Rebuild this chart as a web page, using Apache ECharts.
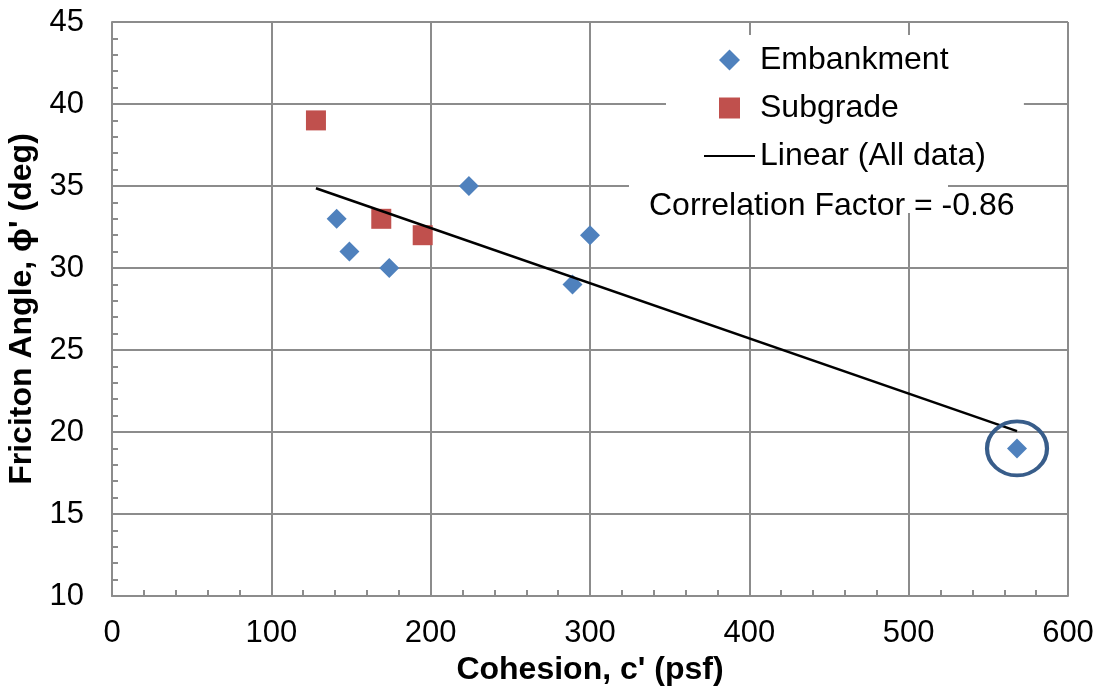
<!DOCTYPE html>
<html>
<head>
<meta charset="utf-8">
<script src="https://cdn.jsdelivr.net/npm/echarts@6/dist/echarts.min.js"></script>
<style>
  html, body { margin: 0; padding: 0; background: #fff; }
  #chart { width: 1103px; height: 688px; }
</style>
</head>
<body>
<div id="chart"></div>
<script>
// values
const embankment = [[141, 33], [149, 31], [174, 30], [224, 35], [289, 29], [300, 32], [568, 19]];
const subgrade = [[128, 39], [169, 33], [195, 32]];
const trendAll = [[128, 34.86], [568, 20.05]];   // linear fit, all data
const outlier = [[568, 19]];                      // circled point
const correlation = 'Correlation Factor = -0.86';

const font = '"Liberation Sans", Arial, sans-serif';
const gridGray = '#8c8c8c';

const chart = echarts.init(document.getElementById('chart'));

const axisCommon = {
  axisLine: { lineStyle: { color: gridGray, width: 2 } },
  axisTick: { inside: true, length: 6, lineStyle: { color: gridGray, width: 2 } },
  minorTick: { show: true, splitNumber: 5, length: 6, lineStyle: { color: gridGray, width: 2 } },
  splitLine: { show: true, lineStyle: { color: gridGray, width: 2 } },
  nameTextStyle: { fontFamily: font, fontSize: 32, fontWeight: 'bold', color: '#000' }
};

chart.setOption({
  animation: false,
  backgroundColor: '#fff',
  grid: { left: 112, right: 35, top: 22, bottom: 92, outerBoundsMode: 'none' },
  xAxis: Object.assign({}, axisCommon, {
    type: 'value', min: 0, max: 600, interval: 100,
    name: "Cohesion, c' (psf)", nameLocation: 'middle', nameGap: 53,
    axisLabel: { fontFamily: font, fontSize: 31, color: '#000', margin: 22 }
  }),
  yAxis: Object.assign({}, axisCommon, {
    type: 'value', min: 10, max: 45, interval: 5,
    name: "Friciton Angle, \u03d5' (deg)", nameLocation: 'middle', nameGap: 67,
    axisLabel: { fontFamily: font, fontSize: 31, color: '#000', margin: 28 }
  }),
  legend: {
    orient: 'vertical',
    left: 666, top: 35,
    backgroundColor: '#fff',
    padding: [9, 38, 6, 38],
    itemWidth: 51, itemHeight: 21, itemGap: 16,
    symbolKeepAspect: true,
    textStyle: { fontFamily: font, fontSize: 32, color: '#000' },
    data: [
      { name: 'Embankment', icon: 'path://M0,-1L1,0L0,1L-1,0Z' },
      { name: 'Subgrade', icon: 'path://M0,0H1V1H0Z' },
      { name: 'Linear (All data)', icon: 'path://M0,0H51V2.2H0Z' }
    ]
  },
  graphic: [
    { type: 'rect', left: 629, top: 176, z: 3, shape: { width: 319, height: 37 }, style: { fill: '#fff' } },
    { type: 'text', left: 649, top: 190, z: 5,
      style: { text: correlation, font: '32px ' + font, fill: '#000' } }
  ],
  series: [
    {
      name: 'Embankment', type: 'scatter', symbol: 'diamond', symbolSize: 20,
      itemStyle: { color: '#4f81bd', opacity: 1 }, data: embankment, z: 3
    },
    {
      name: 'Subgrade', type: 'scatter', symbol: 'rect', symbolSize: 20,
      itemStyle: { color: '#c0504d', opacity: 1 }, data: subgrade, z: 3
    },
    {
      name: 'Linear (All data)', type: 'line', symbol: 'none',
      lineStyle: { color: '#000', width: 2.5 }, itemStyle: { color: '#000' },
      data: trendAll, z: 4
    },
    {
      name: 'outlier', type: 'scatter', silent: true,
      symbol: 'path://M0,-1A1,1,0,1,1,0,1A1,1,0,1,1,0,-1Z', symbolKeepAspect: false,
      symbolSize: [60, 54],
      itemStyle: { color: 'rgba(0,0,0,0)', borderColor: '#385d8a', borderWidth: 4, opacity: 1 },
      data: outlier, z: 5
    }
  ]
});
</script>
</body>
</html>
